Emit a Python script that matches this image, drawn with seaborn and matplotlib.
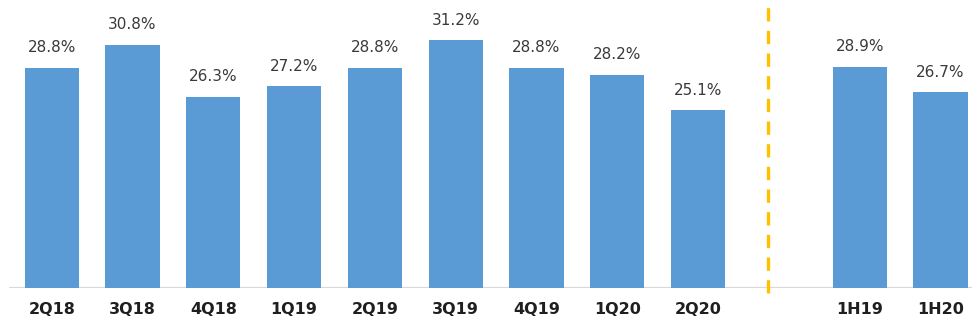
import matplotlib
matplotlib.use("Agg")
import matplotlib.pyplot as plt
import seaborn as sns
import pandas as pd

# Period labels and ratios (%)
quarters = ["2Q18", "3Q18", "4Q18", "1Q19", "2Q19", "3Q19", "4Q19", "1Q20", "2Q20"]
quarter_values = [28.8, 30.8, 26.3, 27.2, 28.8, 31.2, 28.8, 28.2, 25.1]
halves = ["1H19", "1H20"]
half_values = [28.9, 26.7]

BAR_COLOR = "#5B9BD5"
SEP_COLOR = "#FFC000"
LABEL_COLOR = "#3A3A3A"

df = pd.DataFrame({
    "period": quarters + halves,
    "value": quarter_values + half_values,
})
# blank slot separates quarterly from half-year bars
order = quarters + [" "] + halves

sns.set_theme(style="white")
plt.rcParams["font.family"] = ["DejaVu Sans"]

fig = plt.figure(figsize=(9.72, 3.29), dpi=100)
ax = fig.add_axes([0, 41 / 329, 1, 288 / 329])

sns.barplot(data=df, x="period", y="value", order=order, color=BAR_COLOR,
            saturation=1, width=0.67, linewidth=0, ax=ax)

for cont in ax.containers:
    ax.bar_label(cont, fmt="%.1f%%", padding=9, fontsize=11,
                 color=LABEL_COLOR)

ymin, ymax = 9.7, 34.68
ax.set_ylim(ymin, ymax)
ax.set_xlim(-0.64, 11.39)

# baseline
ax.axhline(ymin, xmin=0.01, xmax=1, color="#D9D9D9", lw=1.6, zorder=0)

# dashed separator between quarterly and half-year figures
sep_x = 8.86
ax.vlines(sep_x, ymin - 0.45, ymax, colors=SEP_COLOR, linestyles=(0, (4, 2.8)),
          lw=2.4, clip_on=False)

for s in ax.spines.values():
    s.set_visible(False)
ax.set_yticks([])
ax.set_xlabel("")
ax.set_ylabel("")
ax.tick_params(axis="x", length=0, pad=10)
for t in ax.get_xticklabels():
    t.set_fontweight("bold")
    t.set_fontsize(11.5)
    t.set_color("#1F1F1F")

fig.savefig("out.png", dpi=100)
